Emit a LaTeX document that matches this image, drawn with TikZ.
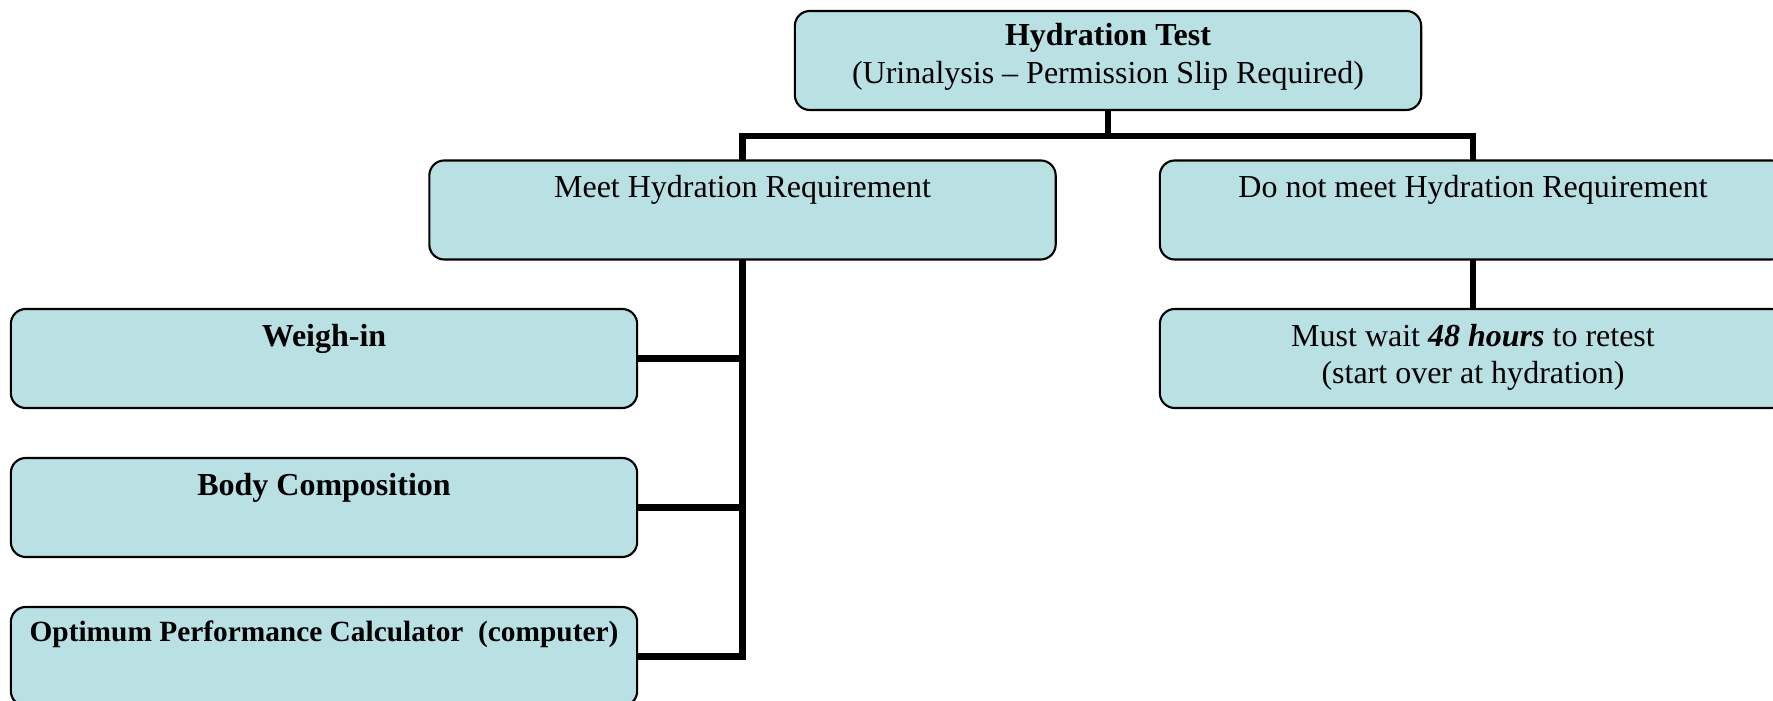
\documentclass[tikz,border=0pt]{standalone}
\usepackage{fontspec}
\setmainfont{Liberation Serif}
\definecolor{boxfill}{RGB}{185,224,227}
\begin{document}
\begin{tikzpicture}[x=0.01cm,y=-0.01cm,
  box/.style={draw=black, line width=0.6pt, fill=boxfill, rounded corners=0.15cm,
    minimum width=6.26cm, minimum height=0.99cm, inner sep=0pt, outer sep=0pt},
  txt/.style={anchor=base, inner sep=0pt, font=\fontsize{9.1}{11}\selectfont},
  smalltxt/.style={anchor=base, inner sep=0pt, font=\fontsize{8.35}{10}\selectfont\bfseries},
  conn/.style={line width=1.8pt}]
\useasboundingbox (0,0) rectangle (1773,701);
\clip (0,0) rectangle (1773,701);

% boxes
\node[box] (top) at (1108,60.5) {};
\node[box] (meet) at (742.5,210) {};
\node[box] (nomeet) at (1473,210) {};
\node[box] (wait) at (1473,358.5) {};
\node[box] (weigh) at (324,358.5) {};
\node[box] (body) at (324,507.5) {};
\node[box] (opc) at (324,656.5) {};

% texts
\node[txt, font=\fontsize{9.1}{11}\selectfont\bfseries] (t1) at (1108,46) {Hydration Test};
\node[txt] (t2) at (1108,84) {(Urinalysis – Permission Slip Required)};
\node[txt] (t3) at (742.5,198) {Meet Hydration Requirement};
\node[txt] (t4) at (1473,198) {Do not meet Hydration Requirement};
\node[txt] (t5) at (1473,347) {Must wait \textbf{\textit{48 hours}} to retest};
\node[txt] (t6) at (1473,384) {(start over at hydration)};
\node[txt, font=\fontsize{9.1}{11}\selectfont\bfseries] (t7) at (324,347) {Weigh-in};
\node[txt, font=\fontsize{9.1}{11}\selectfont\bfseries] (t8) at (324,496) {Body Composition};
\node[smalltxt] (t9) at (324,642) {Optimum Performance Calculator~~(computer)};

% connectors
\coordinate (bus) at (1108,136);
\draw[conn] (top.south) -- (bus);
\draw[conn] (meet.north) |- (bus) -| (nomeet.north);
\draw[conn] (nomeet.south) -- (wait.north);
\draw[conn] (meet.south) |- (opc.east);
\draw[conn] (weigh.east) -- (weigh.east -| meet.south);
\draw[conn] (body.east) -- (body.east -| meet.south);
\end{tikzpicture}
\end{document}
